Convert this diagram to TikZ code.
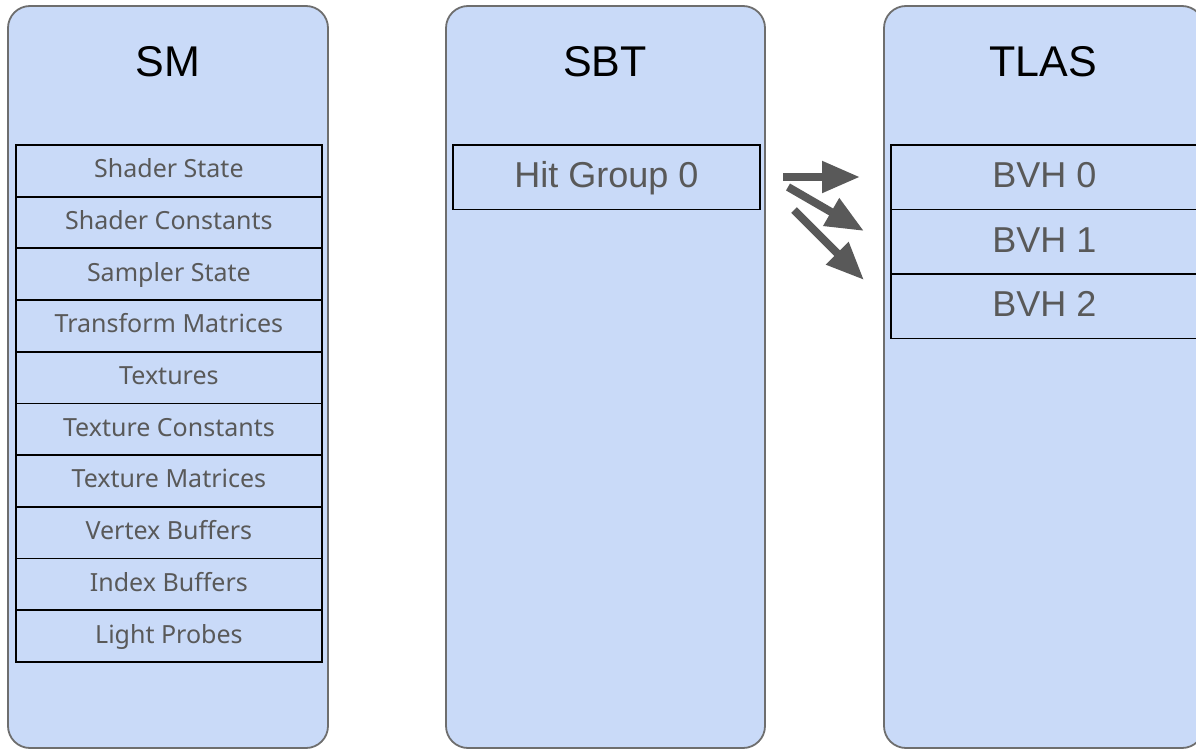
\documentclass[tikz,border=0pt]{standalone}
\usepackage{fontspec}
\setmainfont{Liberation Sans}
\newfontfamily\itemfont{Noto Sans}
\usetikzlibrary{arrows.meta}
\definecolor{panelfill}{HTML}{C9DAF8}
\definecolor{panelline}{HTML}{6E6E6E}
\definecolor{textgray}{HTML}{595959}
\definecolor{arrowgray}{HTML}{595959}
\tikzset{
  x=1pt, y=-1pt,
  panel/.style={draw=panelline, line width=1.8pt, fill=panelfill, rounded corners=22pt},
  title/.style={font=\fontsize{43}{48}\selectfont, text=black, anchor=center},
  cell/.style={draw=black, line width=1.8pt, fill=panelfill, rectangle, inner sep=0pt, anchor=north west},
  smcell/.style={cell, minimum width=306pt, minimum height=51.7pt, text=textgray,
    font=\itemfont\fontsize{25}{28}\selectfont, text height=18pt, text depth=4pt},
  bigcell/.style={cell, minimum width=307pt, minimum height=64.5pt, text=textgray,
    font=\fontsize{36}{40}\selectfont, text height=26pt, text depth=5pt},
  ref/.style={draw=arrowgray, line width=8pt, -{Triangle[length=38pt, width=30pt]}}
}
\begin{document}
\begin{tikzpicture}
\useasboundingbox (0,0) rectangle (1196,749);
\clip (0,0) rectangle (1196,749);

% three columns
\draw[panel] (8,6) rectangle (328,748);
\draw[panel] (446,6) rectangle (765,748);
\draw[panel] (884,6) rectangle (1204,748);

\node[title] (smt) at (168,62) {SM};
\node[title] (sbtt) at (605,62) {SBT};
\node[title] (tlast) at (1043,62) {TLAS};

% SM contents
\foreach \lbl [count=\i from 0] in {Shader State, Shader Constants, Sampler State, Transform Matrices, Textures, Texture Constants, Texture Matrices, Vertex Buffers, Index Buffers, Light Probes}
  \node[smcell] (sm\i) at (15,144+51.7*\i) {\lbl};

% SBT contents
\node[bigcell] (hg0) at (452,144) {Hit Group 0};

% TLAS contents
\node[bigcell, minimum width=312pt] (bvh0) at (890,144) {\hspace*{-5pt}BVH 0};
\node[bigcell, minimum width=312pt] (bvh1) at (890,208.5) {\hspace*{-5pt}BVH 1};
\node[bigcell, minimum width=312pt] (bvh2) at (890,273) {\hspace*{-5pt}BVH 2};

% arrows between SBT and TLAS
\coordinate (a0s) at (783,177);
\coordinate (a0e) at (860,177);
\coordinate (a1s) at (788,187);
\coordinate (a1e) at (864,231);
\coordinate (a2s) at (794,210);
\coordinate (a2e) at (864,280);
\draw[ref] (a0s) -- (a0e);
\draw[ref] (a1s) -- (a1e);
\draw[ref] (a2s) -- (a2e);
\end{tikzpicture}
\end{document}
